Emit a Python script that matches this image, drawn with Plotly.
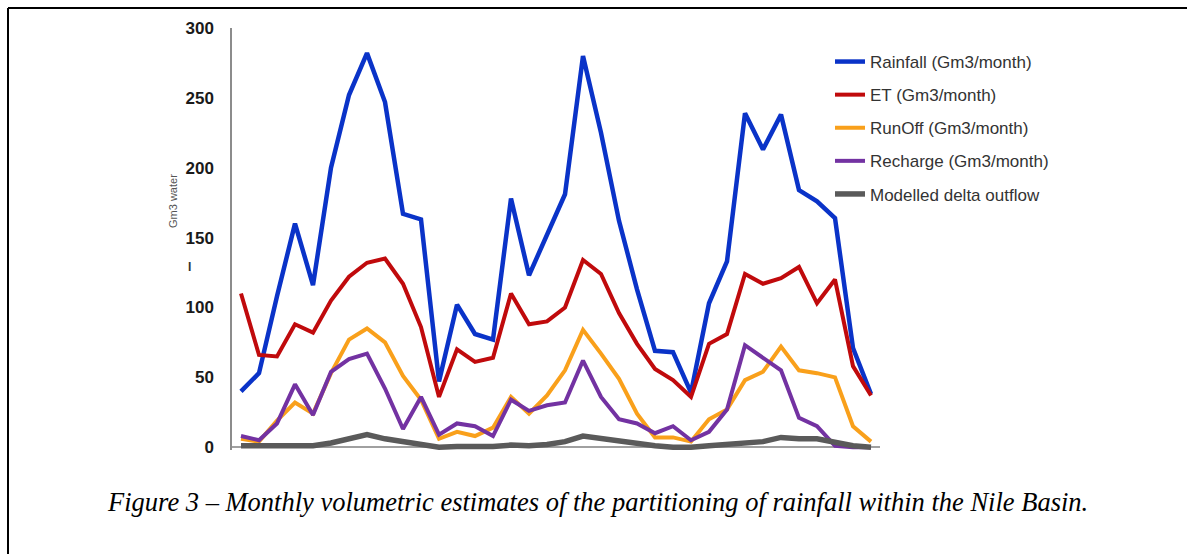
import plotly.graph_objects as go

months = list(range(1, 37))

rainfall = [40, 53, 108, 160, 116, 200, 252, 282, 247, 167, 163, 47,
            102, 81, 77, 178, 123, 152, 181, 280, 225, 162, 113, 69,
            68, 39, 103, 133, 239, 213, 238, 184, 176, 164, 71, 38]
et = [110, 66, 65, 88, 82, 105, 122, 132, 135, 117, 86, 36,
      70, 61, 64, 110, 88, 90, 100, 134, 124, 96, 74, 56,
      48, 36, 74, 81, 124, 117, 121, 129, 103, 120, 58, 37]
runoff = [6, 4, 19, 32, 24, 53, 77, 85, 75, 51, 34, 6,
          11, 8, 14, 36, 24, 37, 55, 84, 67, 49, 24, 7,
          7, 4, 20, 27, 48, 54, 72, 55, 53, 50, 15, 4]
recharge = [8, 5, 17, 45, 23, 54, 63, 67, 42, 13, 36, 9,
            17, 15, 8, 34, 26, 30, 32, 62, 36, 20, 17, 10,
            15, 5, 11, 27, 73, 64, 55, 21, 15, 1, 0, 0]
outflow = [1, 1, 1, 1, 1, 3, 6, 9, 6, 4, 2, 0,
           0.5, 0.5, 0.5, 1.5, 1, 2, 4, 8, 6, 4, 2, 1,
           0, 0, 1, 2, 3, 4, 7, 6, 6, 3, 1, 0]

names = ["Rainfall (Gm3/month)", "ET (Gm3/month)", "RunOff (Gm3/month)",
         "Recharge (Gm3/month)", "Modelled delta outflow"]
series = [rainfall, et, runoff, recharge, outflow]
colors = ["#0a33c8", "#c00a0c", "#f9a01b", "#7332a2", "#5a5a5a"]
widths = [4.5, 4, 4, 4, 5.5]

y_ticks = [0, 50, 100, 150, 200, 250, 300]

fig = go.Figure()
for name, vals, col, w in zip(names, series, colors, widths):
    fig.add_trace(go.Scatter(
        x=months, y=vals, mode="lines", name=name, legendgroup=name,
        line=dict(color=col, width=w),
    ))

L, R, T, B = 232, 307, 28, 104
W, H = 1187, 554
pw = W - L - R
ph = H - T - B

def px(x):
    return (x - L) / pw

def py(y):
    return (H - B - y) / ph

fig.update_layout(
    width=W, height=H,
    margin=dict(l=L, r=R, t=T, b=B, pad=0),
    paper_bgcolor="white", plot_bgcolor="white",
    font=dict(family="Liberation Sans, Arial, sans-serif", color="#222"),
    showlegend=True,
    legend=dict(
        x=px(830), y=py(44), xanchor="left", yanchor="top",
        font=dict(size=17, color="#333", family="Liberation Sans, Arial, sans-serif"),
        tracegroupgap=8, traceorder="grouped",
        bgcolor="rgba(0,0,0,0)", itemwidth=30,
    ),
    xaxis=dict(
        range=[0.5, 36.5], showticklabels=False, showgrid=False,
        zeroline=False, showline=False, ticks="",
    ),
    yaxis=dict(
        range=[-2, 300], tickvals=y_ticks, ticktext=[str(v) for v in y_ticks],
        showgrid=False, showline=True, linecolor="#8c8c8c", linewidth=1.5,
        zeroline=True, zerolinecolor="#a0a0a0", zerolinewidth=1.5,
        ticks="outside", ticklen=13, tickcolor="rgba(0,0,0,0)",
        tickfont=dict(size=17, color="#1a1a1a",
                      family="Liberation Sans, Arial, sans-serif", weight="bold"),
    ),
    shapes=[
        dict(type="line", xref="paper", yref="paper",
             x0=px(8), x1=px(1187), y0=py(8), y1=py(8),
             line=dict(color="black", width=2)),
        dict(type="line", xref="paper", yref="paper",
             x0=px(8), x1=px(8), y0=py(8), y1=py(554),
             line=dict(color="black", width=2)),
    ],
    annotations=[
        dict(text="Gm3 water", xref="paper", yref="paper",
             x=px(173), y=py(201), textangle=-90, showarrow=False,
             font=dict(size=11, color="#555"), xanchor="center", yanchor="middle"),
        dict(text="I", xref="paper", yref="paper",
             x=px(189), y=py(267), showarrow=False,
             font=dict(size=12, color="#333", weight="bold"),
             xanchor="center", yanchor="middle"),
        dict(text="Figure 3 – Monthly volumetric estimates of the partitioning of rainfall within the Nile Basin.",
             xref="paper", yref="paper", x=px(597), y=py(502), showarrow=False,
             font=dict(size=26.5, color="black", family="Liberation Serif, Times New Roman, serif",
                       style="italic"),
             xanchor="center", yanchor="middle"),
    ],
)

fig.write_html("out.html")
